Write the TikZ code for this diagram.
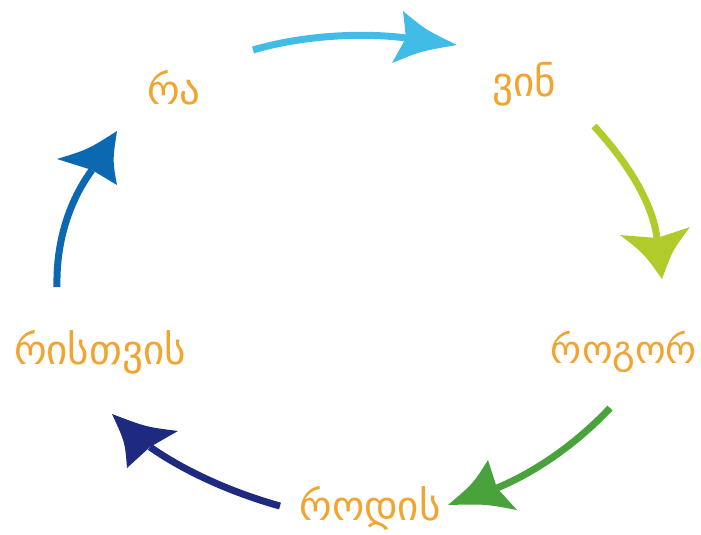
\documentclass[tikz,border=0pt]{standalone}
\usepackage{fontspec}
\newfontfamily\geofont{DejaVu Sans}
\usetikzlibrary{calc}
\definecolor{txtc}{HTML}{F2A431}
\definecolor{ccyan}{HTML}{40BCE6}
\definecolor{clime}{HTML}{B1CB2B}
\definecolor{cgreen}{HTML}{4AA23D}
\definecolor{cnavy}{HTML}{1E2A80}
\definecolor{cblue}{HTML}{0B68B1}
\tikzset{
  word/.style={text=txtc, font=\geofont\fontsize{41}{48}\selectfont, inner sep=0pt, anchor=center},
  shaft/.style={line width=7pt, line cap=butt},
}
% kite arrowhead: #1 colour, #2 tip, #3 wing1, #4 notch, #5 wing2
\newcommand{\kitehead}[5]{%
  \fill[#1] (#2) .. controls ($($(#2)!0.5!(#3)$)!0.18!(#4)$) .. (#3)
     -- (#4) -- (#5) .. controls ($($(#2)!0.5!(#5)$)!0.18!(#4)$) .. (#2) -- cycle;}
\begin{document}
\begin{tikzpicture}[x=1pt,y=-1pt]
\useasboundingbox (0,0) rectangle (701,535);
% words
\node[word] (ra) at (174,88) {რა};
\node[word] (vin) at (524,84) {ვინ};
\node[word, font=\geofont\fontsize{39}{46}\selectfont] (rogor) at (624,352) {როგორ};
\node[word] (rodis) at (370,508) {როდის};
\node[word] (ristvis) at (100,352) {რისთვის};
% cyan arrow
\coordinate (c1) at (253,50);
\coordinate (cn) at (406,38);
\draw[shaft, ccyan] (c1) .. controls (300,36) and (360,32) .. (cn);
\kitehead{ccyan}{457,45}{403,11}{cn}{392,63}
% lime arrow
\coordinate (l1) at (594,126);
\coordinate (ln) at (657,238);
\draw[shaft, clime] (l1) .. controls (625,160) and (652,200) .. (ln);
\kitehead{clime}{662,279}{620,235}{ln}{690,227}
% green arrow
\coordinate (g1) at (610,408);
\coordinate (gn) at (497,488);
\draw[shaft, cgreen] (g1) .. controls (580,440) and (540,470) .. (gn);
\kitehead{cgreen}{448,505}{488,460}{gn}{517,510}
% navy arrow
\coordinate (n1) at (280,506);
\coordinate (nn) at (150,447);
\draw[shaft, cnavy] (n1) .. controls (240,495) and (190,475) .. (nn);
\kitehead{cnavy}{112,414}{178,431}{nn}{127,468}
% blue arrow
\coordinate (b1) at (57,287);
\coordinate (bn) at (92,170);
\draw[shaft, cblue] (b1) .. controls (56,240) and (70,200) .. (bn);
\kitehead{cblue}{117,131}{57,159}{bn}{117,185}
\end{tikzpicture}
\end{document}
